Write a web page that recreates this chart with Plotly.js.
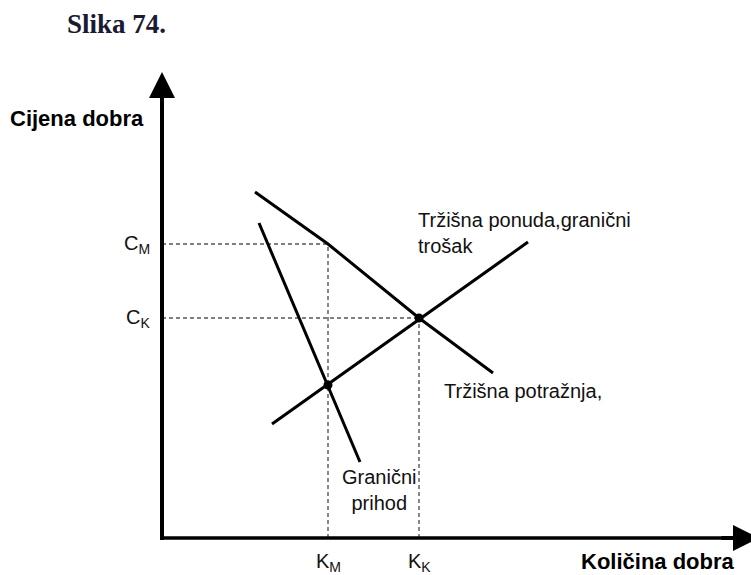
<!DOCTYPE html>
<html>
<head>
<meta charset="utf-8">
<script src="https://cdn.plot.ly/plotly-3.0.1.min.js"></script>
<style>html,body{margin:0;padding:0;background:#fff;}#chart{width:751px;height:575px;}</style>
</head>
<body>
<div id="chart"></div>
<script>
// ---- data (quantity Q, price P) ----
const demandQ = [9.3, 16.6, 25.7, 33.1];
const demandP = [34.6, 29.4, 22.0, 16.5];
const mrQ = [9.7, 19.8];
const mrP = [31.5, 7.6];
const supplyQ = [11.0, 36.6];
const supplyP = [11.4, 29.6];
const KM = 16.6, KK = 25.7;     // quantities
const CM = 29.4, CK = 22.0;     // prices
const PM_MC = 15.3;             // MR = MC price at KM
const pointQ = [KM, KK];
const pointP = [PM_MC, CK];
const priceTicks = ['C<sub>M</sub>', 'C<sub>K</sub>'];
const qtyTicks = ['K<sub>M</sub>', 'K<sub>K</sub>'];

// ---- layout helpers (pixel -> axis units), origin at (162,538), 10 px per unit ----
const px = p => (p - 162) / 10;
const py = p => (538 - p) / 10;

const black = '#000';
const dashCol = '#555';
const lbl = {family: 'Liberation Sans, Arial, sans-serif', size: 20, color: '#111'};

const traces = [
  {x: [0, KM], y: [CM, CM], mode: 'lines', line: {color: dashCol, width: 1.4, dash: '4px,3px'}},
  {x: [0, KK], y: [CK, CK], mode: 'lines', line: {color: dashCol, width: 1.4, dash: '4px,3px'}},
  {x: [KM, KM], y: [0, CM], mode: 'lines', line: {color: dashCol, width: 1.4, dash: '4px,3px'}},
  {x: [KK, KK], y: [0, CK], mode: 'lines', line: {color: dashCol, width: 1.4, dash: '4px,3px'}},
  {x: demandQ, y: demandP, mode: 'lines', line: {color: black, width: 3}},
  {x: mrQ, y: mrP, mode: 'lines', line: {color: black, width: 3}},
  {x: supplyQ, y: supplyP, mode: 'lines', line: {color: black, width: 3}},
  {x: pointQ, y: pointP, mode: 'markers', marker: {color: black, size: 9}}
];

const annotations = [
  {xref: 'paper', yref: 'paper', x: 65 / 751, y: 1 - 24 / 575, xanchor: 'left', yanchor: 'middle',
   text: '<b>Slika 74.</b>', showarrow: false,
   font: {family: 'Liberation Serif, Times New Roman, serif', size: 27, color: '#1a1a33'}},
  {x: px(8), y: py(118), xanchor: 'left', yanchor: 'middle', text: '<b>Cijena dobra</b>', showarrow: false,
   font: {family: 'Liberation Sans, Arial, sans-serif', size: 22, color: '#000'}},
  {x: px(736), y: py(561), xanchor: 'right', yanchor: 'middle', text: '<b>Količina dobra</b>', showarrow: false,
   borderpad: 0,
   font: {family: 'Liberation Sans, Arial, sans-serif', size: 22, color: '#000'}},
  {x: px(152), y: CM, xanchor: 'right', yanchor: 'middle', text: priceTicks[0], showarrow: false, font: lbl},
  {x: px(152), y: CK, xanchor: 'right', yanchor: 'middle', text: priceTicks[1], showarrow: false, font: lbl},
  {x: KM, y: py(562), xanchor: 'center', yanchor: 'middle', text: qtyTicks[0], showarrow: false, font: lbl},
  {x: KK, y: py(562), xanchor: 'center', yanchor: 'middle', text: qtyTicks[1], showarrow: false, font: lbl},
  {x: px(416), y: py(233), xanchor: 'left', yanchor: 'middle', align: 'left',
   text: 'Tržišna ponuda,granični<br>trošak', showarrow: false, font: lbl},
  {x: px(442), y: py(391), xanchor: 'left', yanchor: 'middle', text: 'Tržišna potražnja,', showarrow: false, font: lbl},
  {x: px(379), y: py(490), xanchor: 'center', yanchor: 'middle', align: 'center',
   text: 'Granični<br>prihod', showarrow: false, font: lbl},
  // axis arrowheads
  {x: 0, y: py(72), ax: 0, ay: py(110), axref: 'x', ayref: 'y', text: '', showarrow: true,
   arrowhead: 2, arrowsize: 1.3, arrowwidth: 4, arrowcolor: black},
  {x: px(759), y: 0, ax: px(720), ay: 0, axref: 'x', ayref: 'y', text: '', showarrow: true,
   arrowhead: 2, arrowsize: 1.3, arrowwidth: 4, arrowcolor: black}
];

const shapes = [
  {type: 'line', xref: 'x', yref: 'y', x0: 0, y0: py(540), x1: 0, y1: py(95), line: {color: black, width: 4}},
  {type: 'line', xref: 'x', yref: 'y', x0: px(160), y0: 0, x1: px(738), y1: 0, line: {color: black, width: 3.5}}
];

const layout = {
  width: 751, height: 575,
  margin: {l: 0, r: 0, t: 0, b: 0, pad: 0},
  paper_bgcolor: '#fff', plot_bgcolor: '#fff',
  showlegend: false,
  xaxis: {range: [px(0), px(751)], visible: false, fixedrange: true},
  yaxis: {range: [py(575), py(0)], visible: false, fixedrange: true},
  annotations: annotations,
  shapes: shapes
};

Plotly.newPlot('chart', traces, layout, {staticPlot: true, displayModeBar: false});
</script>
</body>
</html>
